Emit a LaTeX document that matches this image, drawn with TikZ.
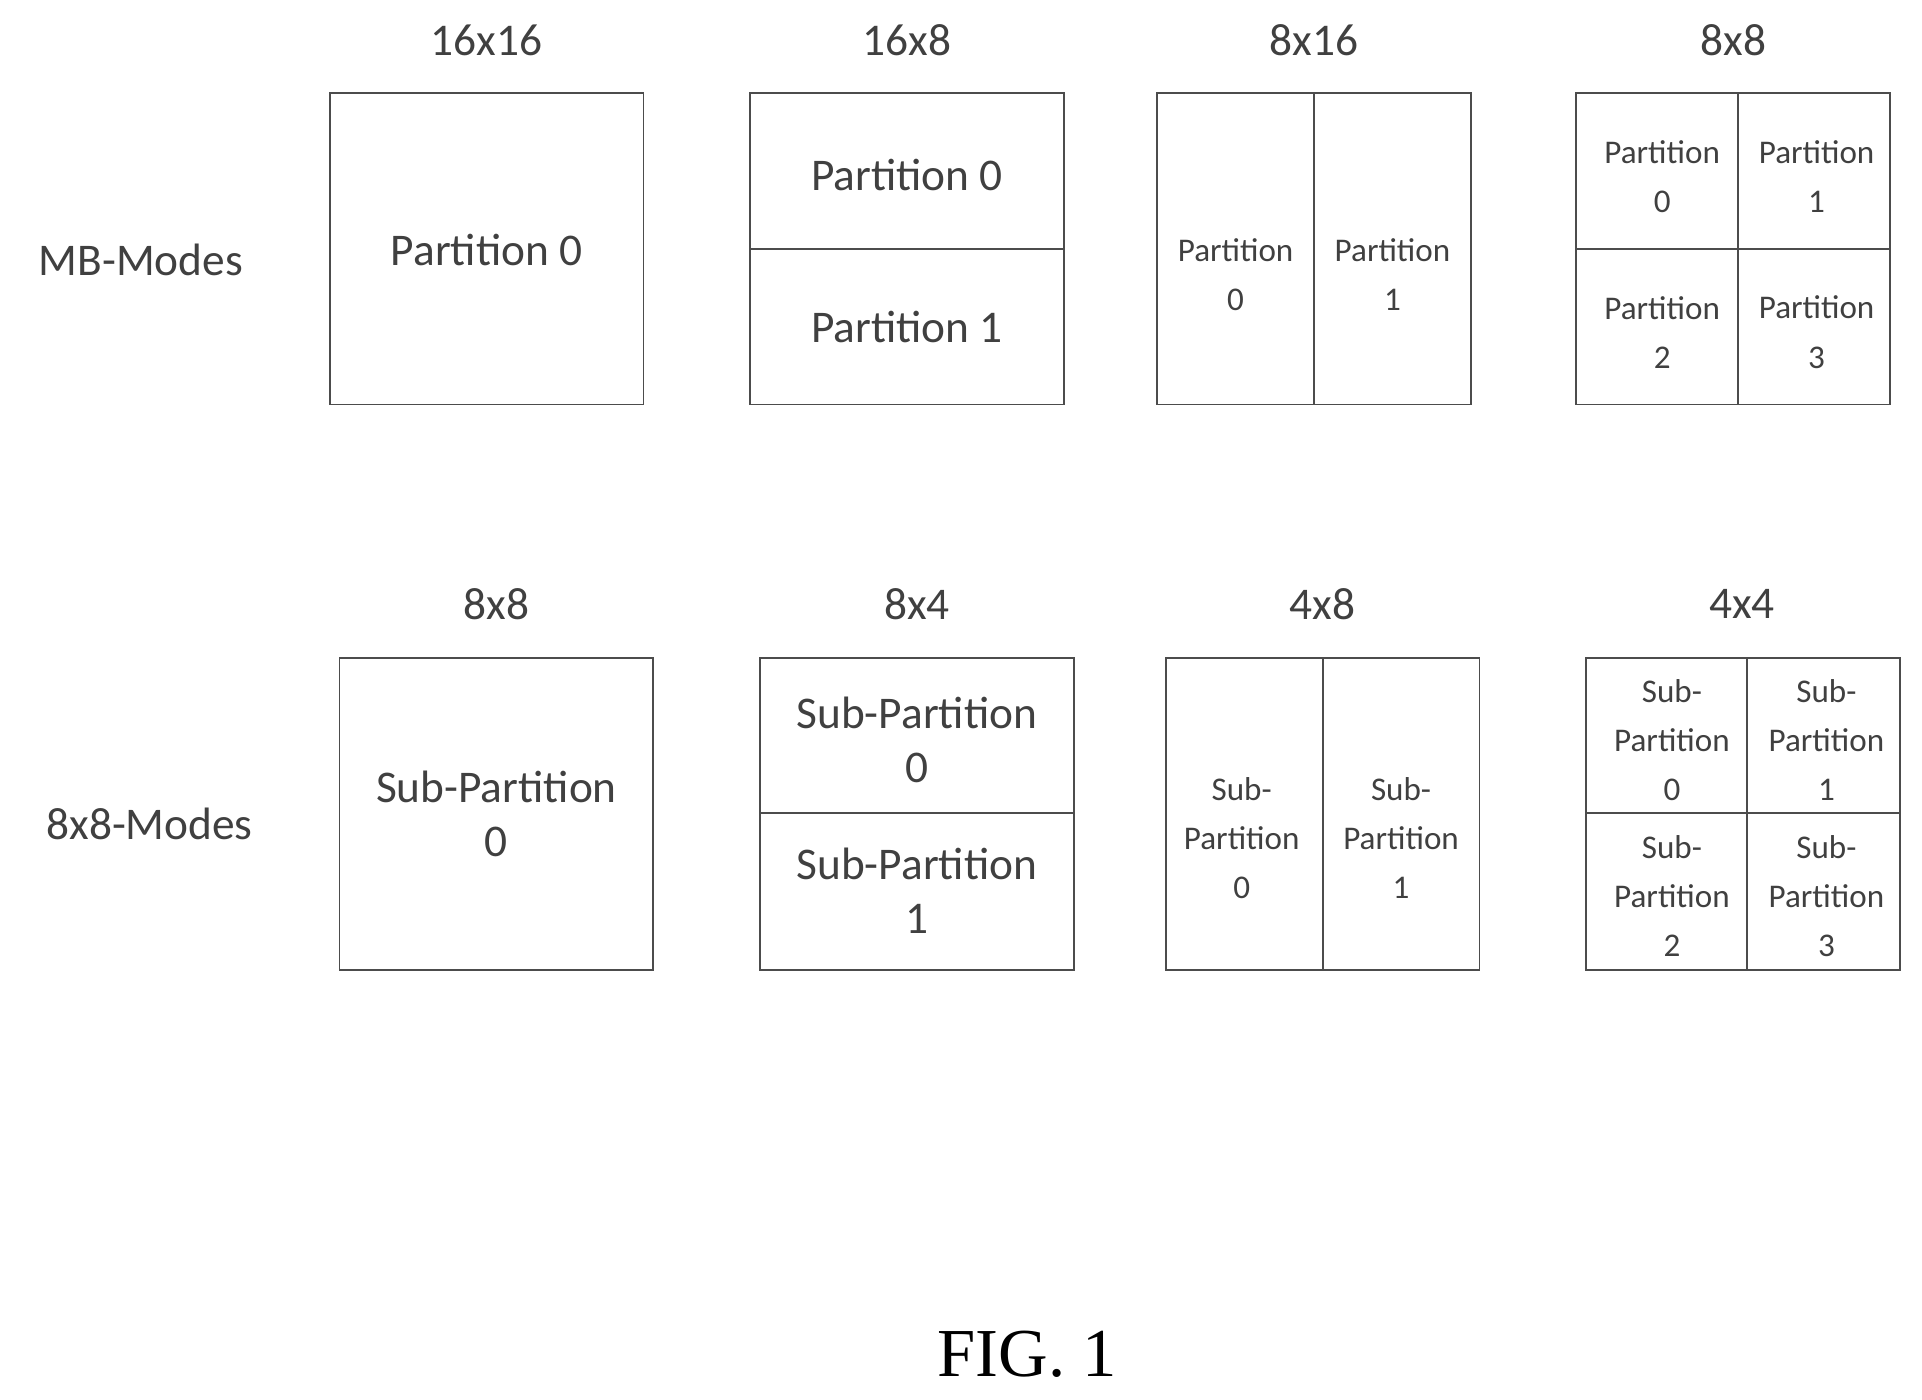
\documentclass[tikz,border=0pt]{standalone}
\usepackage{fontspec}
\setmainfont{Carlito}
\newfontfamily\figfont{Liberation Serif}
\begin{document}
\begin{tikzpicture}[x=1pt,y=-1pt,
 box/.style={draw=black!70,line width=1.5pt},
 big/.style={font=\fontsize{37}{44}\selectfont,text=black!75,align=center},
 mid/.style={font=\fontsize{30}{40}\selectfont,text=black!75,align=center},
 sm/.style={font=\fontsize{27}{40}\selectfont,text=black!75,align=center}]
\useasboundingbox (0,0) rectangle (1568,1142);
% row 1
\node[big] (t1) at (397,33) {16x16};
\node[big] (t2) at (740,33) {16x8};
\node[big] (t3) at (1072,33) {8x16};
\node[big] (t4) at (1414,33) {8x8};
\node[big] (mb) at (115,212) {MB-Modes};
\draw[box] (269,76) rectangle (525,330);
\node[big] (a) at (397,204) {Partition 0};
\draw[box] (612,76) rectangle (868,330); \draw[box] (612,203)--(868,203);
\node[big] (b0) at (740,143) {Partition 0};
\node[big] (b1) at (740,267) {Partition 1};
\draw[box] (944,76) rectangle (1200,330); \draw[box] (1072,76)--(1072,330);
\node[sm] (c0) at (1008,224) {Partition\\0};
\node[sm] (c1) at (1136,224) {Partition\\1};
\draw[box] (1286,76) rectangle (1542,330); \draw[box] (1418,76)--(1418,330); \draw[box] (1286,203)--(1542,203);
\node[sm] (d0) at (1356,144) {Partition\\0};
\node[sm] (d1) at (1482,144) {Partition\\1};
\node[sm] (d2) at (1356,271) {Partition\\2};
\node[sm] (d3) at (1482,271) {Partition\\3};
% row 2
\node[big] (u1) at (405,493) {8x8};
\node[big] (u2) at (748,493) {8x4};
\node[big] (u3) at (1079,493) {4x8};
\node[big] (u4) at (1421,493) {4x4};
\node[big] (m8) at (122,672) {8x8-Modes};
\draw[box] (277,537) rectangle (533,791);
\node[big] (e) at (405,664) {Sub-Partition\\0};
\draw[box] (620,537) rectangle (876,791); \draw[box] (620,663)--(876,663);
\node[big] (f0) at (748,604) {Sub-Partition\\0};
\node[big] (f1) at (748,727) {Sub-Partition\\1};
\draw[box] (951,537) rectangle (1207,791); \draw[box] (1079,537)--(1079,791);
\node[sm] (g0) at (1013,684) {Sub-\\Partition\\0};
\node[sm] (g1) at (1143,684) {Sub-\\Partition\\1};
\draw[box] (1294,537) rectangle (1550,791); \draw[box] (1425,537)--(1425,791); \draw[box] (1294,663)--(1550,663);
\node[sm] (h0) at (1364,604) {Sub-\\Partition\\0};
\node[sm] (h1) at (1490,604) {Sub-\\Partition\\1};
\node[sm] (h2) at (1364,731) {Sub-\\Partition\\2};
\node[sm] (h3) at (1490,731) {Sub-\\Partition\\3};
\node[font=\figfont\fontsize{56}{60}\selectfont] (fig) at (838,1105) {FIG. 1};
\end{tikzpicture}
\end{document}
